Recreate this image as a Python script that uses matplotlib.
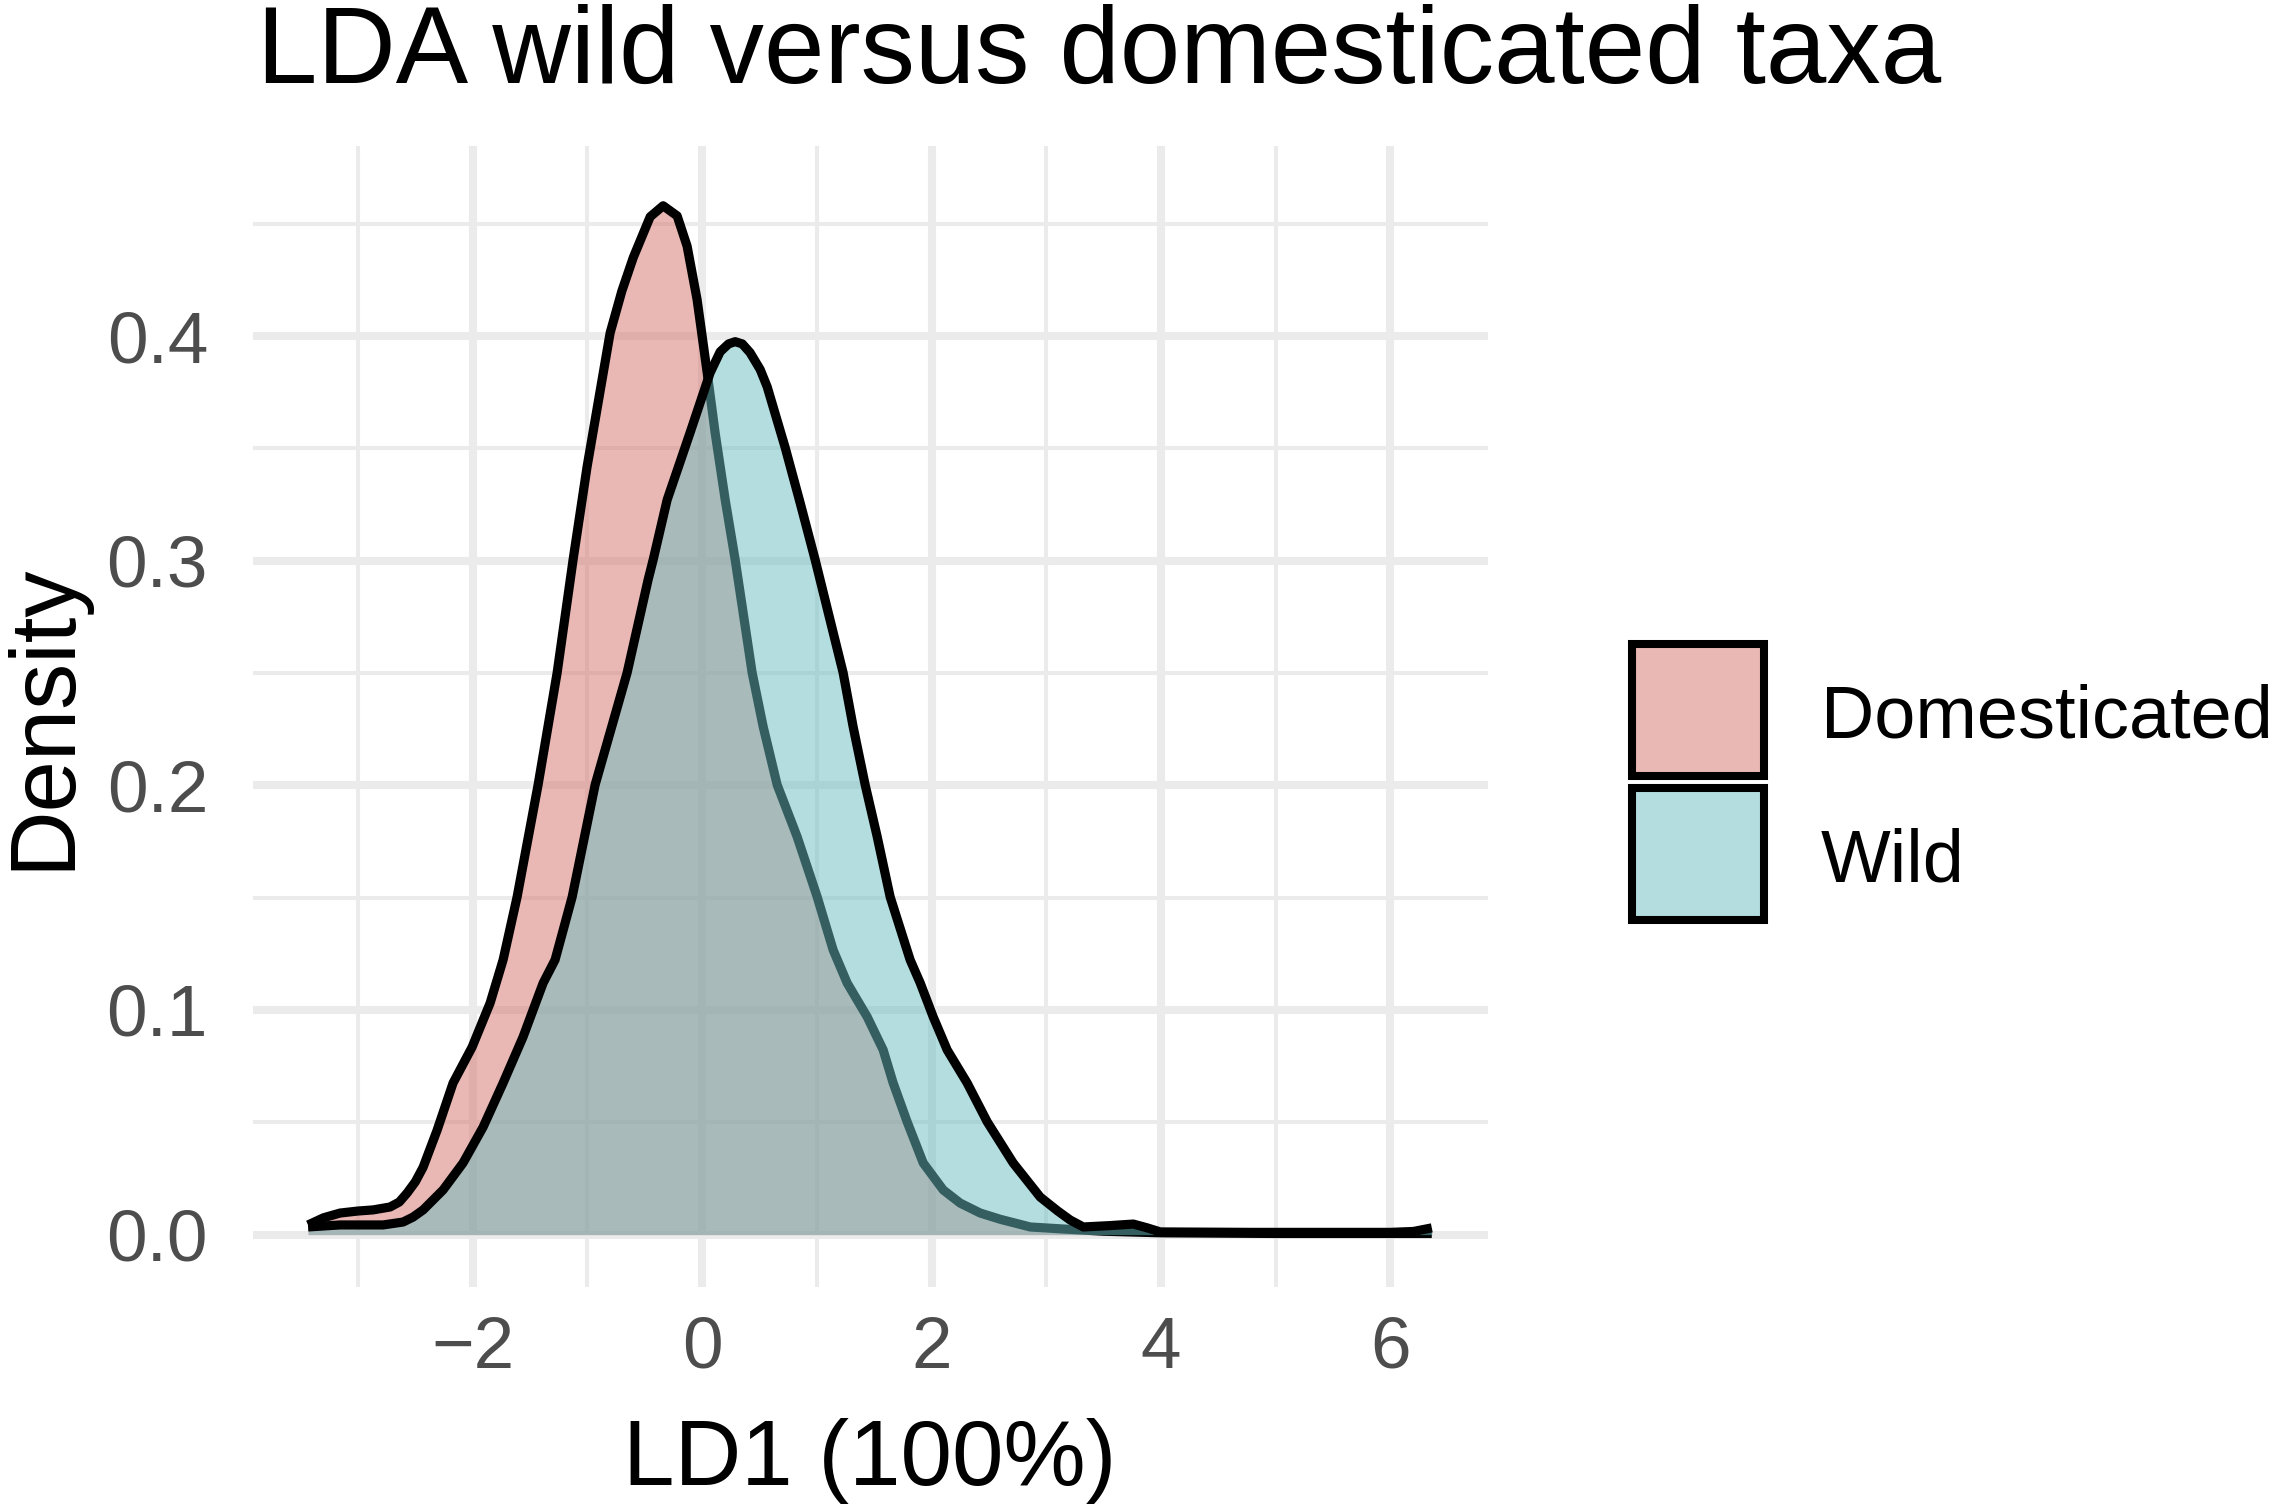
import matplotlib
matplotlib.use("Agg")
import matplotlib.pyplot as plt
from matplotlib.ticker import MultipleLocator
from matplotlib.patches import Rectangle

# ---- data ----
groups = ["Domesticated", "Wild"]

dom_x = [-3.435, -3.300, -3.156, -3.000, -2.868, -2.720, -2.640, -2.572, -2.500,
         -2.432, -2.310, -2.171, -2.005, -1.848, -1.735, -1.613, -1.430, -1.264,
         -1.125, -1.003, -0.802, -0.700, -0.600, -0.453, -0.340, -0.218, -0.131,
         -0.044, 0.044, 0.113, 0.201, 0.288, 0.436, 0.532, 0.654, 0.828, 1.003,
         1.142, 1.264, 1.439, 1.578, 1.665, 1.787, 1.927, 2.101, 2.250, 2.424,
         2.600, 2.860, 3.147, 3.500, 4.000, 5.000, 6.360]
dom_y = [0.0043, 0.0075, 0.0096, 0.0105, 0.0110, 0.0123, 0.0145, 0.0185, 0.0235,
         0.0300, 0.0465, 0.0675, 0.0835, 0.1031, 0.1223, 0.1503, 0.2002, 0.2501,
         0.3004, 0.3418, 0.4014, 0.4200, 0.4350, 0.4531, 0.4580, 0.4535, 0.4400,
         0.4162, 0.3837, 0.3570, 0.3271, 0.3004, 0.2501, 0.2261, 0.2002, 0.1771,
         0.1503, 0.1267, 0.1120, 0.0969, 0.0822, 0.0675, 0.0502, 0.0319, 0.0199,
         0.0140, 0.0096, 0.0068, 0.0034, 0.0025, 0.0015, 0.0008, 0.0005, 0.0005]

wild_x = [-3.435, -3.156, -2.781, -2.607, -2.520, -2.432, -2.258, -2.084, -1.909,
          -1.735, -1.561, -1.386, -1.282, -1.133, -0.933, -0.654, -0.471, -0.427,
          -0.305, -0.105, 0.070, 0.157, 0.230, 0.288, 0.350, 0.418, 0.506, 0.567,
          0.724, 0.854, 0.985, 1.229, 1.316, 1.421, 1.526, 1.639, 1.813, 1.901,
          2.014, 2.136, 2.310, 2.485, 2.711, 2.947, 3.100, 3.208, 3.322, 3.550,
          3.758, 3.880, 3.993, 4.780, 6.000, 6.200, 6.360]
wild_y = [0.0034, 0.0043, 0.0043, 0.0056, 0.0078, 0.0110, 0.0199, 0.0319, 0.0479,
          0.0675, 0.0880, 0.1120, 0.1223, 0.1503, 0.2002, 0.2501, 0.2915, 0.3004,
          0.3271, 0.3570, 0.3837, 0.3930, 0.3965, 0.3975, 0.3965, 0.3926, 0.3851,
          0.3774, 0.3503, 0.3258, 0.3004, 0.2501, 0.2261, 0.2002, 0.1771, 0.1503,
          0.1223, 0.1120, 0.0969, 0.0822, 0.0675, 0.0502, 0.0319, 0.0167, 0.0105,
          0.0065, 0.0034, 0.0040, 0.0047, 0.0030, 0.0012, 0.0010, 0.0010, 0.0014,
          0.0030]

x_ticks = [-2, 0, 2, 4, 6]
y_ticks = [0.0, 0.1, 0.2, 0.3, 0.4]
y_tick_labels = ["0.0", "0.1", "0.2", "0.3", "0.4"]
x_tick_labels = ["\u22122", "0", "2", "4", "6"]

title = "LDA wild versus domesticated taxa"
xlabel = "LD1 (100%)"
ylabel = "Density"

fill_colors = {"Domesticated": "#D7736B", "Wild": "#69BDC1"}
FONT = ["Liberation Sans", "DejaVu Sans"]

# ---- figure ----
W, H, DPI = 2272, 1505, 200
fig = plt.figure(figsize=(W / DPI, H / DPI), dpi=DPI)
fig.patch.set_facecolor("white")

left, right, top, bottom = 253, 1488, 146, 1286.5
ax = fig.add_axes([left / W, 1 - bottom / H, (right - left) / W, (bottom - top) / H])
ax.set_facecolor("white")
ax.set_xlim(-3.915, 6.85)
ax.set_ylim(-0.0231, 0.4846)

for s in ax.spines.values():
    s.set_visible(False)

ax.xaxis.set_major_locator(MultipleLocator(2))
ax.xaxis.set_minor_locator(MultipleLocator(1))
ax.yaxis.set_major_locator(MultipleLocator(0.1))
ax.yaxis.set_minor_locator(MultipleLocator(0.05))
ax.set_xticks(x_ticks)
ax.set_xticklabels(x_tick_labels)
ax.set_yticks(y_ticks)
ax.set_yticklabels(y_tick_labels)
ax.grid(which="major", color="#EBEBEB", linewidth=2.9)
ax.grid(which="minor", color="#EBEBEB", linewidth=1.45)
ax.set_axisbelow(True)
ax.tick_params(which="both", length=0)
ax.tick_params(axis="y", pad=16.2, labelsize=26.3, labelcolor="#4D4D4D")
ax.tick_params(axis="x", pad=10.5, labelsize=26.3, labelcolor="#4D4D4D")
for lab in ax.get_xticklabels() + ax.get_yticklabels():
    lab.set_family(FONT)

lw = 3.3
ax.fill_between(dom_x, 0, dom_y, color=fill_colors["Domesticated"], alpha=0.5, linewidth=0, zorder=2)
ax.plot(dom_x, dom_y, color="black", linewidth=lw, solid_capstyle="butt",
        solid_joinstyle="round", zorder=3)
ax.fill_between(wild_x, 0, wild_y, color=fill_colors["Wild"], alpha=0.5, linewidth=0, zorder=4)
ax.plot(wild_x, wild_y, color="black", linewidth=lw, solid_capstyle="butt",
        solid_joinstyle="round", zorder=5)

# ---- texts ----
fig.text(257 / W, 1 - 83 / H, title, ha="left", va="baseline", fontsize=39.1,
         color="black", family=FONT)
fig.text(870 / W, 1 - 1485 / H, xlabel, ha="center", va="baseline", fontsize=33.3,
         color="black", family=FONT)
fig.text(68 / W, 1 - 716 / H, ylabel, ha="center", va="baseline", rotation=90,
         rotation_mode="anchor", fontsize=33.2, color="black", family=FONT)

# ---- legend ----
key_tops = [644, 788]
baselines = [738, 882]
kx, kw, kh = 1632, 132, 132
for g, kt, bl in zip(groups, key_tops, baselines):
    rect = Rectangle((kx / W, 1 - (kt + kh) / H), kw / W, kh / H,
                     transform=fig.transFigure, facecolor="white",
                     edgecolor="none", zorder=1)
    fig.add_artist(rect)
    rect2 = Rectangle((kx / W, 1 - (kt + kh) / H), kw / W, kh / H,
                      transform=fig.transFigure, facecolor=fill_colors[g], alpha=0.5,
                      edgecolor="none", zorder=2)
    fig.add_artist(rect2)
    rect3 = Rectangle((kx / W, 1 - (kt + kh) / H), kw / W, kh / H,
                      transform=fig.transFigure, facecolor="none",
                      edgecolor="black", linewidth=2.9, zorder=3)
    fig.add_artist(rect3)
    fig.text(1821 / W, 1 - bl / H, g, ha="left", va="baseline", fontsize=26.6,
             color="black", family=FONT)

fig.savefig("out.png", dpi=DPI, facecolor="white")
